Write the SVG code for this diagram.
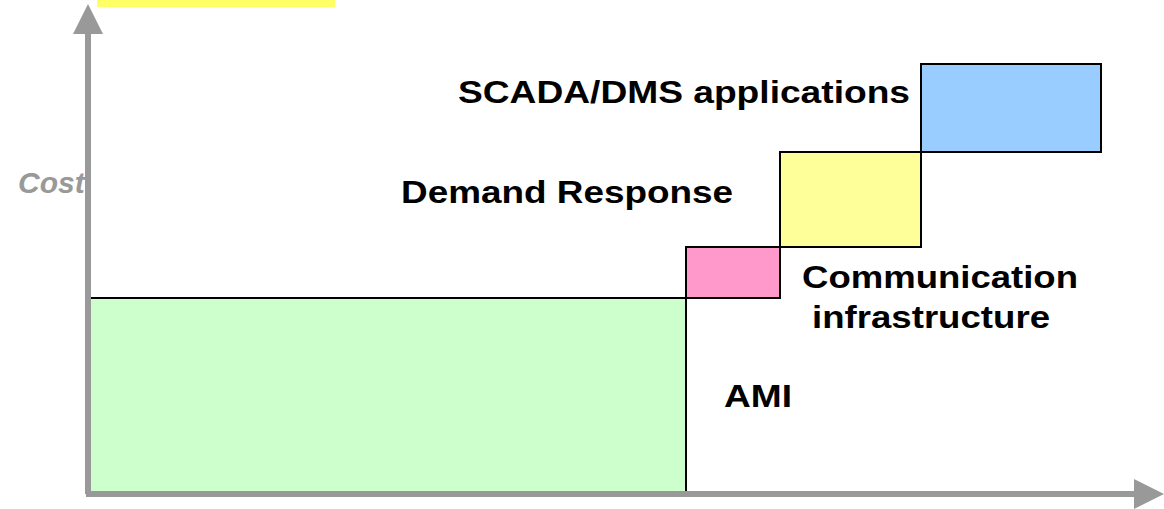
<svg xmlns="http://www.w3.org/2000/svg" width="1164" height="509" viewBox="0 0 1164 509">
<style>
.lbl{font-family:"Liberation Sans",Arial,sans-serif;font-weight:bold;font-size:32px;fill:#000}
.box{stroke:#000;stroke-width:2}
.axis{stroke:#999;stroke-width:6;fill:none}
</style>
<defs>
<marker id="ah" markerUnits="userSpaceOnUse" markerWidth="30" markerHeight="30" refX="0" refY="15" orient="auto" viewBox="0 0 30 30">
<path d="M0,0 L30,15 L0,30 Z" fill="#999"/>
</marker>
</defs>
<rect x="0" y="0" width="1164" height="509" fill="#fff"/>
<rect id="topbar" x="97" y="0" width="238" height="7" fill="#ffff66"/>
<g id="ami"><rect class="box" x="90" y="298" width="596" height="194" fill="#ccffcc"/></g>
<g id="comm"><rect class="box" x="686" y="247" width="94" height="51" fill="#ff99cc"/></g>
<g id="dr"><rect class="box" x="780" y="152" width="141" height="95" fill="#ffff99"/></g>
<g id="scada"><rect class="box" x="921" y="64" width="180" height="88" fill="#99ccff"/></g>
<g id="connectors">
<path class="axis" d="M88,494 L88,34" marker-end="url(#ah)"/>
<path class="axis" d="M86,494 L1134,494" marker-end="url(#ah)"/>
</g>
<g id="labels">
<text class="lbl" x="458" y="103" textLength="452" lengthAdjust="spacingAndGlyphs">SCADA/DMS applications</text>
<text class="lbl" x="401" y="203" textLength="332" lengthAdjust="spacingAndGlyphs">Demand Response</text>
<text class="lbl" x="802" y="288" textLength="276" lengthAdjust="spacingAndGlyphs">Communication</text>
<text class="lbl" x="812" y="328" textLength="238" lengthAdjust="spacingAndGlyphs">infrastructure</text>
<text class="lbl" x="724" y="407" textLength="68" lengthAdjust="spacingAndGlyphs">AMI</text>
<text x="18" y="193" font-family="Liberation Sans,Arial,sans-serif" font-weight="bold" font-style="italic" font-size="30" fill="#999">Cost</text>
</g>
</svg>
